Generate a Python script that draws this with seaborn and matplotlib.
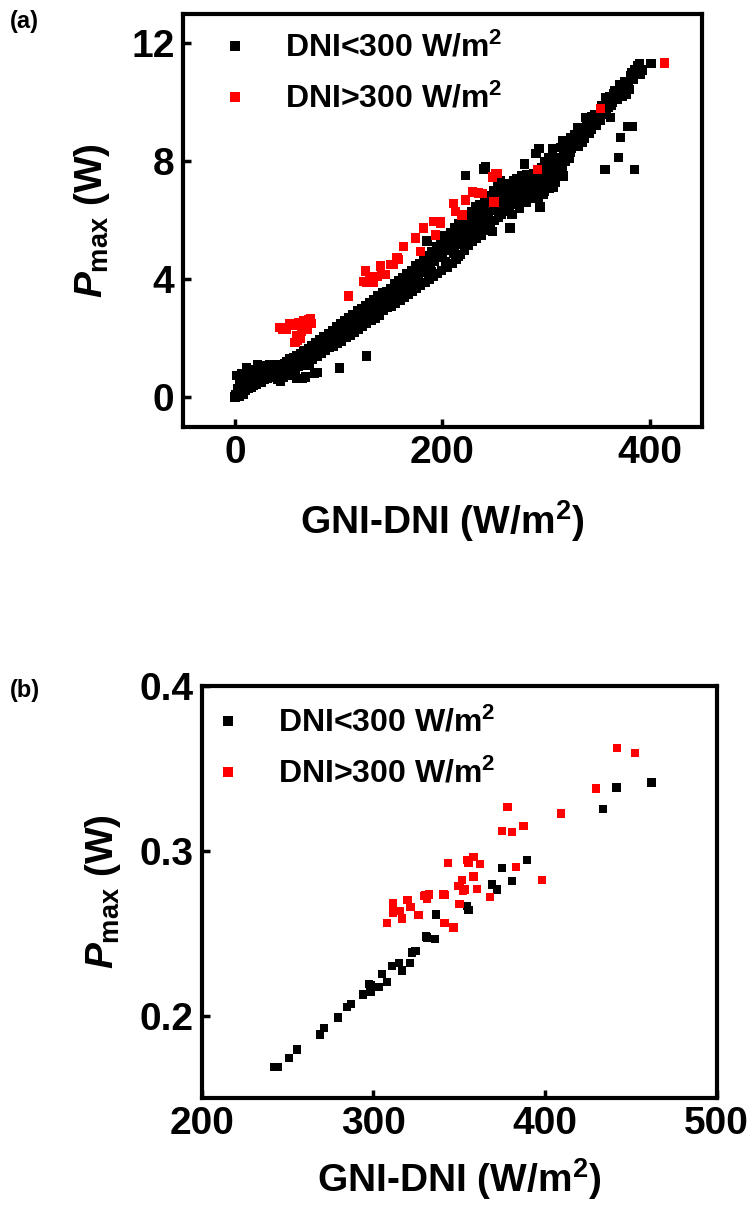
import matplotlib
matplotlib.use("Agg")
import matplotlib.pyplot as plt
import pandas as pd
import seaborn as sns

# ---------------- panel (a): GNI-DNI vs Pmax ----------------
a_low_x = [0, 1, 2, 3, 4, 5, 6, 7, 8, 9, 10, 11, 12, 13, 14, 15, 16, 17, 18, 19, 20,
           21, 22, 23, 24, 25, 26, 27, 28, 29, 30, 31, 32, 33, 34, 35, 36, 37, 38, 39, 40,
           41, 42, 43, 44, 45, 46, 47, 48, 49, 50, 51, 52, 53, 54, 55, 56, 57, 58, 59, 60,
           61, 62, 63, 64, 65, 66, 67, 68, 70, 71, 72, 73, 74, 75, 76, 78, 79, 80, 82, 83,
           84, 86, 87, 88, 90, 91, 92, 94, 95, 96, 98, 99, 100,
           60, 65, 68, 77, 79, 101, 127,
           102, 103, 104, 106, 107, 108, 110, 111, 112, 114, 115, 116, 118, 119, 120, 122,
           123, 124, 126, 127, 128, 130, 131, 132, 134, 135, 136, 138, 139, 140, 142, 143,
           144, 146, 147, 148, 150,
           151, 152, 154, 155, 156, 158, 159, 160, 162, 163, 164, 166, 167, 168, 170, 171,
           172, 174, 175, 176, 178, 179, 180, 182, 183, 184, 185, 186, 187, 188, 190, 191,
           192, 194, 195, 196, 198, 199, 200, 202, 204,
           205, 206, 208, 209, 210, 212, 213, 214, 216, 217, 218, 220, 221, 222, 223, 224,
           225, 226, 228, 229, 230, 232, 233, 234, 236, 237, 238, 240, 240.5, 241.5, 242,
           243, 245, 246, 247, 248, 249, 250, 251, 253, 254, 255, 256, 257, 258, 260,
           261, 262, 263, 264, 265, 266, 268, 269, 270, 272, 273, 275, 276, 277, 279, 280,
           281, 283, 285, 286, 288, 289, 290, 291, 293, 294, 295, 296, 298, 299, 301, 302,
           304, 306, 307, 308, 310, 311, 312, 314, 315, 316, 318, 320,
           322, 324, 324, 326, 328, 330, 332, 333, 335, 336, 338, 340, 342, 344, 346, 348,
           350, 352, 354, 356, 357, 358, 360, 362, 364, 365, 367, 370, 372, 375, 377, 380,
           382, 385, 388, 391, 401,
           356.5, 369.4, 371.3, 378.4, 383.3, 384.8,
           101, 105, 109, 113, 117, 121, 125, 129, 133, 137, 141, 145, 149,
           153, 157, 161, 165, 169, 173, 177, 181, 185, 189, 193, 197, 201, 203, 189, 177,
           207, 211, 215, 219, 223, 227, 231, 235, 239, 244, 248, 252, 256, 259, 211, 219,
           227, 235, 244, 252, 215, 231, 240,
           262, 267, 271, 274, 278, 282, 284, 287, 292, 297, 300, 303, 305, 309, 313, 317,
           319, 267, 274, 281, 287, 292, 297, 303, 309, 316,
           321, 323, 327, 329, 331, 334, 337, 339, 341, 343, 345, 347, 349, 351, 353, 355,
           359, 361, 363, 366, 368, 371, 373, 376, 379, 381, 384, 387, 390, 393]
a_low_y = [0.02, 0.10, 0.75, 0.30, 0.05, 0.50, 0.20, 0.80, 0.12, 0.40, 0.25, 1.00, 0.60, 0.30, 0.45, 0.85, 0.35, 0.50, 0.40, 0.95, 0.60,
           0.45, 1.10, 0.55, 0.70, 0.50, 0.75, 1.00, 0.60, 1.08, 0.80, 0.65, 0.90, 0.70, 1.10, 0.85, 0.75, 0.95, 1.00, 0.80, 1.05,
           0.60, 0.90, 1.10, 0.55, 0.80, 1.00, 0.70, 1.15, 0.90, 1.20, 0.75, 1.05, 1.30, 0.90, 1.20, 1.00, 1.35, 0.95, 1.15, 1.40,
           1.05, 1.25, 1.50, 1.10, 1.35, 1.60, 1.20, 1.45, 1.30, 1.65, 1.10, 1.50, 1.75, 1.30, 1.55, 1.85, 1.40, 1.65, 1.95, 1.50,
           1.75, 2.05, 1.60, 1.85, 2.15, 1.70, 1.95, 2.25, 1.75, 2.05, 2.40, 1.85, 2.15,
           0.64, 0.64, 0.70, 0.81, 0.85, 1.00, 1.40,
           2.50, 1.90, 2.25, 2.60, 2.05, 2.35, 2.70, 2.10, 2.45, 2.80, 2.20, 2.55, 2.95, 2.30, 2.65, 3.00,
           2.40, 2.75, 3.10, 2.50, 2.85, 3.20, 2.60, 2.95, 3.30, 2.70, 3.05, 3.45, 2.80, 3.15, 3.55, 2.95,
           3.25, 3.60, 3.05, 3.35, 3.70,
           3.10, 3.45, 3.85, 3.20, 3.55, 3.95, 3.30, 3.70, 4.05, 3.40, 3.80, 4.20, 3.50, 3.90, 4.30, 3.60,
           4.00, 4.45, 3.70, 4.15, 4.55, 3.80, 4.25, 4.70, 3.90, 4.40, 5.30, 4.80, 4.00, 4.50, 4.95, 4.10,
           4.60, 5.10, 4.20, 4.75, 5.25, 4.30, 4.85, 5.50, 5.35,
           4.40, 5.00, 5.60, 4.55, 5.15, 5.75, 4.70, 5.30, 5.90, 4.85, 5.45, 6.00, 5.00, 7.53, 5.60, 6.15,
           5.15, 5.75, 6.30, 5.30, 5.90, 6.45, 5.40, 6.05, 6.55, 5.50, 6.20, 7.75, 6.70, 7.81, 5.65,
           6.35, 6.85, 5.80, 6.50, 5.62, 7.00, 6.00, 6.65, 7.15, 6.10, 6.80, 7.36, 6.20, 6.95, 7.25,
           6.30, 7.10, 6.91, 6.40, 5.74, 7.20, 6.55, 7.36, 6.70, 7.40, 6.60, 6.91, 7.50, 6.80, 7.92, 7.00,
           7.55, 6.90, 7.36, 7.14, 7.60, 6.95, 8.26, 7.03, 8.43, 6.46, 7.25, 7.80, 7.00, 8.00, 7.36, 8.14,
           7.50, 8.43, 7.14, 7.47, 8.14, 7.59, 7.90, 8.48, 7.70, 8.71, 8.00, 8.30,
           8.10, 8.82, 8.43, 8.50, 8.70, 9.15, 8.90, 8.87, 8.65, 9.00, 9.49, 9.20, 9.30, 9.50, 9.25, 9.21,
           9.60, 9.38, 9.70, 9.90, 10.16, 9.80, 9.83, 9.49, 10.00, 10.28, 10.20, 10.35, 10.50, 10.61, 10.28, 10.44,
           11.00, 11.10, 11.23, 10.95, 11.32,
           7.72, 8.14, 8.82, 9.18, 9.18, 7.72,
           2.30, 2.45, 2.50, 2.65, 2.75, 2.85, 3.00, 3.05, 3.15, 3.30, 3.40, 3.45, 3.55,
           3.65, 3.75, 3.90, 4.00, 4.10, 4.25, 4.35, 4.50, 4.60, 4.75, 4.85, 5.00, 5.10, 4.60, 4.25, 3.95,
           5.30, 5.45, 5.55, 5.70, 5.85, 6.00, 6.15, 6.25, 6.40, 6.55, 6.70, 6.85, 6.95, 6.60, 4.90, 5.20,
           5.45, 5.80, 6.05, 6.35, 4.80, 5.60, 5.95,
           6.75, 6.85, 7.00, 7.15, 7.25, 7.20, 7.45, 7.30, 7.50, 7.55, 7.70, 7.80, 7.95, 7.90, 8.10, 8.30,
           8.50, 6.20, 6.40, 6.60, 6.75, 6.75, 6.90, 7.10, 7.30, 7.50,
           8.60, 8.30, 8.90, 8.60, 8.50, 9.10, 8.80, 9.30, 8.95, 9.10, 9.40, 9.60, 9.40, 9.50, 9.90, 9.60,
           10.00, 10.20, 9.90, 10.40, 10.10, 10.60, 10.20, 10.70, 10.60, 10.90, 10.80, 11.00, 11.30, 11.10]

a_high_x = [43.5, 46, 50, 53, 56, 58, 60, 62, 64, 66, 68, 70, 71, 73, 74, 63, 60,
            109.5, 124, 125.6, 127.2, 130, 133.6, 136.9, 140.1, 141.7, 144.9, 149.8, 152.9,
            156.2, 157.8, 162.6, 173.9, 178.7, 181.9, 191.6, 193.2, 198.1, 198,
            210.9, 212.6, 219, 222.2, 228.7, 235, 238.4, 249.6, 248, 251.2, 252.8, 291.5,
            352, 413.8]
a_high_y = [2.38, 2.30, 2.32, 2.49, 2.45, 1.87, 2.09, 2.55, 2.26, 2.60, 2.55, 2.32, 2.65, 2.66, 2.50, 2.00, 1.95,
            3.44, 3.94, 4.28, 3.89, 4.10, 3.89, 4.11, 4.45, 4.17, 4.17, 4.50, 4.50,
            4.73, 4.67, 5.12, 5.40, 4.95, 5.74, 5.96, 5.51, 5.96, 5.90,
            6.58, 6.30, 6.18, 6.69, 6.97, 6.93, 6.91, 6.63, 7.47, 7.59, 7.59, 7.72,
            9.80, 11.34]

# ---------------- panel (b) ----------------
b_low_x = [242, 244, 250.8, 255.6, 268.8, 271.1, 279.3, 284.7, 287, 294, 298.3, 298.6,
           297.3, 303.1, 305, 307.9, 310.9, 314.7, 316.7, 321.1, 322.5, 324.4, 330.8,
           331.2, 336, 336.4, 354.5, 355.4, 369, 371.9, 374.8, 380.6, 389.4,
           441.7, 433.9, 462]
b_low_y = [0.169, 0.169, 0.1745, 0.1795, 0.1886, 0.1926, 0.1988, 0.2052, 0.2072, 0.2128, 0.2183, 0.2143,
           0.2193, 0.2173, 0.2253, 0.2203, 0.2303, 0.232, 0.2273, 0.232, 0.2384, 0.2394, 0.248,
           0.2474, 0.2464, 0.2614, 0.2665, 0.264, 0.2795, 0.2765, 0.2896, 0.2815, 0.2946,
           0.3384, 0.3253, 0.3414]

b_high_x = [378.1, 374.8, 380.6, 387.4, 343.4, 354.5, 358.3, 355.4, 362.2, 383.1, 398.1,
            351.5, 358.3, 350.2, 353.1, 360.3, 368, 341.3, 330.2, 331.2, 350.2, 319.9,
            311.5, 321.5, 325.8, 311.2, 315.1, 316.7, 308, 341.3, 346.7, 349.6, 352,
            442.1, 452.3, 429.7, 409.3, 329.3, 332.2, 326.3, 340.9]
b_high_y = [0.3267, 0.312, 0.3113, 0.3151, 0.2926, 0.2946, 0.2962, 0.2926, 0.2922, 0.2902, 0.2825,
            0.2825, 0.2845, 0.2785, 0.2765, 0.2769, 0.2721, 0.2731, 0.2731, 0.2711, 0.2679, 0.27,
            0.2681, 0.2658, 0.261, 0.2625, 0.2634, 0.259, 0.2564, 0.2564, 0.2534, 0.2785, 0.276,
            0.3622, 0.3594, 0.3378, 0.3227, 0.2725, 0.2735, 0.261, 0.2735]

group_names = ["DNI<300 W/m$^\\mathrm{2}$", "DNI>300 W/m$^\\mathrm{2}$"]
palette = {group_names[0]: "black", group_names[1]: "#ff0000"}

df_a = pd.DataFrame({
    "x": a_low_x + a_high_x,
    "y": a_low_y + a_high_y,
    "group": [group_names[0]] * len(a_low_x) + [group_names[1]] * len(a_high_x),
})
df_b = pd.DataFrame({
    "x": b_low_x + b_high_x,
    "y": b_low_y + b_high_y,
    "group": [group_names[0]] * len(b_low_x) + [group_names[1]] * len(b_high_x),
})

sns.set_theme(style="ticks")
plt.rcParams.update({
    "font.family": ["Liberation Sans", "DejaVu Sans"],
    "font.weight": "bold",
    "axes.labelweight": "bold",
    "text.color": "black",
    "axes.labelcolor": "black",
    "xtick.color": "black",
    "ytick.color": "black",
    "axes.edgecolor": "black",
    "mathtext.fontset": "custom",
    "mathtext.rm": "Liberation Sans:bold",
    "mathtext.it": "Liberation Sans:bold:italic",
    "mathtext.bf": "Liberation Sans:bold",
    "mathtext.sf": "Liberation Sans:bold",
})

fig = plt.figure(figsize=(7.56, 12.12), dpi=100)
ax1 = fig.add_axes([0.242, 0.6477, 0.6865, 0.3408])
ax2 = fig.add_axes([0.267, 0.094, 0.681, 0.340])

ylab = r"$\mathit{P}_{\mathrm{max}}$ (W)"
xlab = r"GNI-DNI (W/m$^\mathrm{2}$)"


def style_axes(ax, fs_tick=28, fs_lab=28):
    for sp in ax.spines.values():
        sp.set_visible(True)
        sp.set_linewidth(3)
        sp.set_color("black")
    ax.tick_params(axis="both", which="major", direction="in", length=6, width=2.5,
                   labelsize=fs_tick, pad=6, top=False, right=False, color="black",
                   labelcolor="black")
    for lbl in ax.get_xticklabels() + ax.get_yticklabels():
        lbl.set_fontweight("bold")
    ax.set_xlabel(xlab, fontsize=fs_lab, fontweight="bold", color="black")
    ax.set_ylabel(ylab, fontsize=fs_lab, fontweight="bold", color="black")


def add_legend(ax, anchor, ms):
    handles, labels = ax.get_legend_handles_labels()
    for h in handles:
        h.set_markersize(ms)
        h.set_markeredgewidth(0)
    leg = ax.legend(handles, labels, loc="upper left", bbox_to_anchor=anchor, frameon=False,
                    fontsize=23, handlelength=1.0, handletextpad=1.05, labelspacing=0.62,
                    borderaxespad=0, borderpad=0)
    for t in leg.get_texts():
        t.set_color("black")


# panel (a)
sns.scatterplot(data=df_a, x="x", y="y", hue="group", palette=palette, marker="s",
                s=46, linewidth=0, ax=ax1)
ax1.set_xlim(-50, 450)
ax1.set_ylim(-1, 13)
ax1.set_xticks([0, 200, 400])
ax1.set_yticks([0, 4, 8, 12])
style_axes(ax1)
add_legend(ax1, (0.07, 0.955), 7)
ax1.yaxis.labelpad = 14
ax1.xaxis.labelpad = 19

# panel (b)
sns.scatterplot(data=df_b, x="x", y="y", hue="group", palette=palette, marker="s",
                s=36, linewidth=0, ax=ax2)
ax2.set_xlim(200, 500)
ax2.set_ylim(0.15, 0.4)
ax2.set_xticks([200, 300, 400, 500])
ax2.set_yticks([0.2, 0.3, 0.4])
ax2.set_yticklabels(["0.2", "0.3", "0.4"])
style_axes(ax2)
add_legend(ax2, (0.02, 0.948), 7)
ax2.yaxis.labelpad = 12
ax2.xaxis.labelpad = 10

fig.text(0.013, 0.982, "(a)", fontsize=17, fontweight="bold", va="center", ha="left")
fig.text(0.013, 0.430, "(b)", fontsize=17, fontweight="bold", va="center", ha="left")

fig.savefig("out.png", dpi=100)
